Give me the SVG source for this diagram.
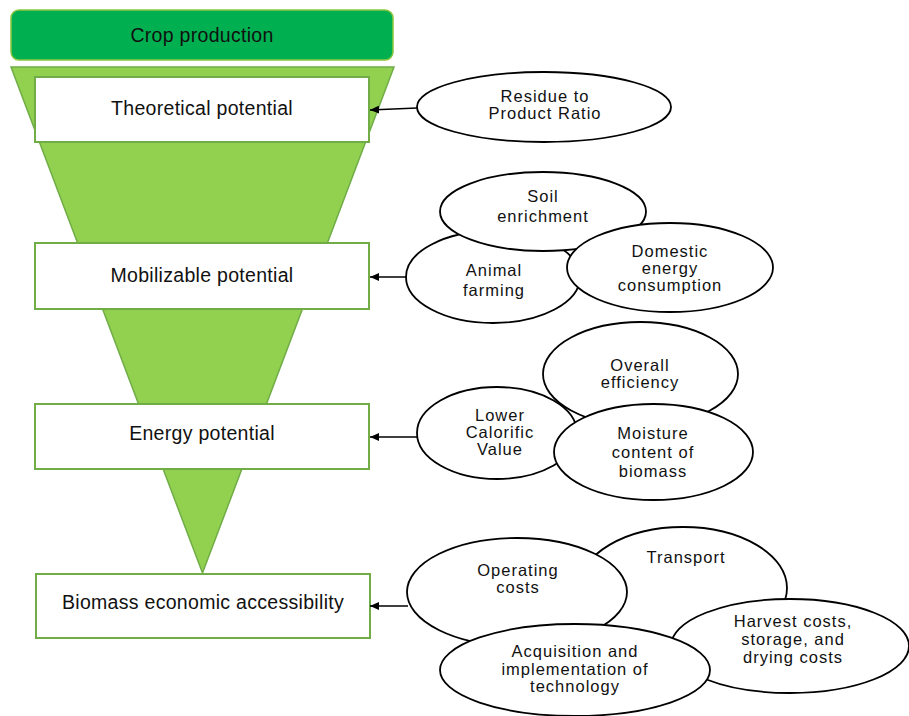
<svg xmlns="http://www.w3.org/2000/svg" width="909" height="716" viewBox="0 0 909 716">
<defs>
<style>
.box{fill:#ffffff;stroke:#70AD47;stroke-width:2}
.bt{font-family:"Liberation Sans",Arial,sans-serif;font-size:19.5px;fill:#111;text-anchor:middle;letter-spacing:0.3px}
.el{fill:#ffffff;stroke:#000;stroke-width:1.8}
.et{font-family:"Liberation Sans",Arial,sans-serif;font-size:16.5px;fill:#111;text-anchor:middle;letter-spacing:1px}
.con{stroke:#000;stroke-width:1.6;fill:none;marker-end:url(#ah)}
</style>
<marker id="ah" markerUnits="userSpaceOnUse" markerWidth="9" markerHeight="8" refX="9" refY="4" orient="auto">
<path d="M0,0 L9,4 L0,8 z" fill="#000"/>
</marker>
</defs>
<rect width="909" height="716" fill="#ffffff"/>
<g id="funnel">
<polygon points="11,67 394,67 202.5,573" fill="#92D050" stroke="#70AD47" stroke-width="1.5"/>
</g>
<g id="crop">
<rect x="11" y="10" width="382" height="50" rx="8" fill="#00B050" stroke="#8CC63F" stroke-width="1.5"/>
<text class="bt" x="202" y="42">Crop production</text>
</g>
<g id="theoretical">
<rect class="box" x="35" y="77" width="334" height="65"/>
<text class="bt" x="202" y="115">Theoretical potential</text>
</g>
<g id="mobilizable">
<rect class="box" x="35" y="243" width="334" height="66"/>
<text class="bt" x="202" y="282">Mobilizable potential</text>
</g>
<g id="energy">
<rect class="box" x="35" y="404" width="334" height="65"/>
<text class="bt" x="202" y="440">Energy potential</text>
</g>
<g id="economic">
<rect class="box" x="36" y="574" width="334" height="64"/>
<text class="bt" x="203" y="609">Biomass economic accessibility</text>
</g>
<g id="residue">
<ellipse class="el" cx="544" cy="107" rx="127" ry="35"/>
<text class="et" x="545" y="102">Residue to</text>
<text class="et" x="545" y="119">Product Ratio</text>
</g>
<g id="animal">
<ellipse class="el" cx="493" cy="277" rx="87" ry="46"/>
<text class="et" x="494" y="276">Animal</text>
<text class="et" x="494" y="296">farming</text>
</g>
<g id="soil">
<ellipse class="el" cx="543" cy="211.5" rx="103" ry="39.5"/>
<text class="et" x="543" y="202">Soil</text>
<text class="et" x="543" y="222">enrichment</text>
</g>
<g id="domestic">
<ellipse class="el" cx="670" cy="267.5" rx="103" ry="44.5"/>
<text class="et" x="670" y="257">Domestic</text>
<text class="et" x="670" y="274">energy</text>
<text class="et" x="670" y="291">consumption</text>
</g>
<g id="overall">
<ellipse class="el" cx="640.5" cy="374" rx="97.5" ry="52"/>
<text class="et" x="640" y="371">Overall</text>
<text class="et" x="640" y="388">efficiency</text>
</g>
<g id="lower">
<ellipse class="el" cx="497" cy="433" rx="80" ry="46"/>
<text class="et" x="500" y="421">Lower</text>
<text class="et" x="500" y="438">Calorific</text>
<text class="et" x="500" y="455">Value</text>
</g>
<g id="moisture">
<ellipse class="el" cx="653.5" cy="452" rx="99.5" ry="48"/>
<text class="et" x="653" y="439">Moisture</text>
<text class="et" x="653" y="458">content of</text>
<text class="et" x="653" y="477">biomass</text>
</g>
<g id="transport">
<ellipse class="el" cx="683" cy="588" rx="104" ry="61"/>
<text class="et" x="686" y="563">Transport</text>
</g>
<g id="operating">
<ellipse class="el" cx="517" cy="592" rx="110" ry="54"/>
<text class="et" x="518" y="576">Operating</text>
<text class="et" x="518" y="593">costs</text>
</g>
<g id="harvest">
<ellipse class="el" cx="790" cy="646" rx="119" ry="47"/>
<text class="et" x="793" y="627">Harvest costs,</text>
<text class="et" x="793" y="645">storage, and</text>
<text class="et" x="793" y="663">drying costs</text>
</g>
<g id="acquisition">
<ellipse class="el" cx="575" cy="670" rx="135" ry="46"/>
<text class="et" x="575" y="657">Acquisition and</text>
<text class="et" x="575" y="675">implementation of</text>
<text class="et" x="575" y="692">technology</text>
</g>
<g id="connectors">
<line class="con" x1="417" y1="108" x2="370" y2="110"/>
<line class="con" x1="407" y1="277" x2="370" y2="277"/>
<line class="con" x1="417" y1="437" x2="370" y2="437"/>
<line class="con" x1="408" y1="606" x2="370" y2="606"/>
</g>
</svg>
